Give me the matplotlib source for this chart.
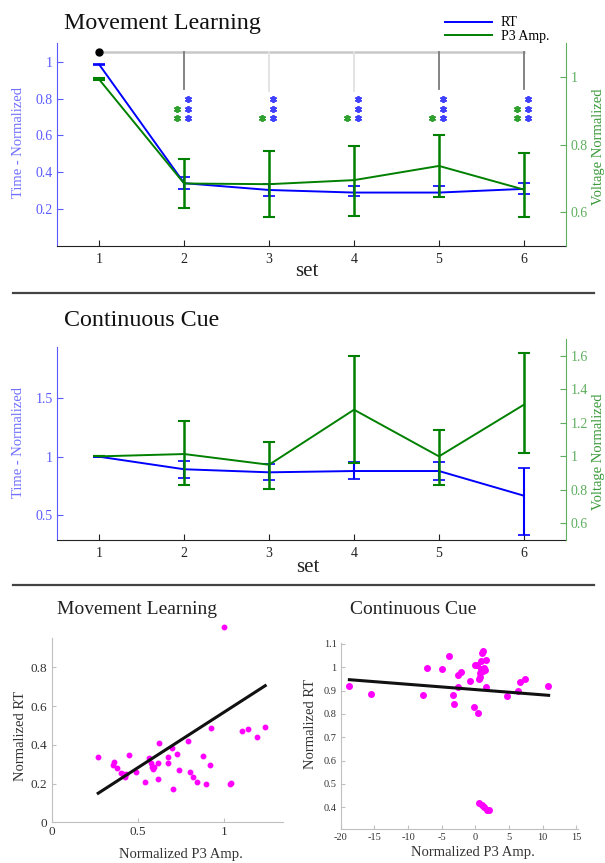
import matplotlib
matplotlib.use('Agg')
import matplotlib.pyplot as plt
from matplotlib.lines import Line2D
from matplotlib.ticker import FuncFormatter

plt.rcParams['font.family'] = ['Liberation Serif', 'DejaVu Serif']

W, H = 605, 863

# ---- data: sets ----
sets = [1, 2, 3, 4, 5, 6]

# movement learning (top panel)
ml_rt = [0.985, 0.341, 0.304, 0.290, 0.290, 0.310]
ml_rt_lo = [0.980, 0.310, 0.270, 0.269, 0.265, 0.280]
ml_rt_hi = [0.990, 0.377, 0.337, 0.323, 0.326, 0.340]
ml_p3 = [0.993, 0.685, 0.683, 0.695, 0.737, 0.667]
ml_p3_lo = [0.990, 0.612, 0.585, 0.590, 0.645, 0.585]
ml_p3_hi = [0.996, 0.759, 0.781, 0.797, 0.829, 0.776]
ml_rt_stars = [0, 3, 3, 3, 3, 3]
ml_p3_stars = [0, 2, 1, 1, 1, 2]
bracket_sets = [2, 3, 4, 5, 6]
bracket_dark = [True, False, False, True, True]

# continuous cue (middle panel)
cc_rt = [1.000, 0.893, 0.867, 0.878, 0.878, 0.668]
cc_rt_lo = [1.000, 0.821, 0.800, 0.808, 0.800, 0.330]
cc_rt_hi = [1.000, 0.966, 0.938, 0.957, 0.957, 0.900]
cc_p3 = [1.000, 1.014, 0.950, 1.279, 1.000, 1.309]
cc_p3_lo = [1.000, 0.827, 0.807, 0.960, 0.830, 1.020]
cc_p3_hi = [1.000, 1.209, 1.086, 1.601, 1.155, 1.617]

# scatter: movement learning
ml_sc_x = [0.267, 0.354, 0.362, 0.381, 0.400, 0.412, 0.426, 0.431, 0.449, 0.489,
           0.542, 0.565, 0.574, 0.580, 0.590, 0.596, 0.615, 0.619, 0.625, 0.673,
           0.677, 0.696, 0.706, 0.729, 0.741, 0.789, 0.803, 0.822, 0.845, 0.880,
           0.896, 0.919, 0.928, 1.000, 1.035, 1.039, 1.106, 1.141, 1.195, 1.238]
ml_sc_y = [0.339, 0.296, 0.313, 0.282, 0.253, 0.249, 0.236, 0.248, 0.348, 0.261,
           0.210, 0.334, 0.305, 0.284, 0.275, 0.287, 0.305, 0.224, 0.408, 0.339,
           0.308, 0.385, 0.172, 0.353, 0.270, 0.420, 0.261, 0.232, 0.210, 0.344,
           0.196, 0.296, 0.489, 1.006, 0.198, 0.205, 0.471, 0.482, 0.439, 0.494]
ml_fit_x = [0.27, 1.24]
ml_fit_y = [0.150, 0.705]

# scatter: continuous cue
cc_sc_x = [-18.71, -15.49, -7.70, -7.11, -4.98, -3.89, -3.34, -3.14, -2.55, -2.10,
           -2.50, -0.86, -0.22, -0.12, 0.23, 0.43, 0.48, 0.63, 0.72, 0.87,
           0.97, 1.12, 1.17, 1.22, 1.37, 1.57, 1.57, 0.82, 4.69, 6.28,
           6.67, 7.42, 10.74, 0.58, 0.97, 1.32, 1.72, 2.01]
cc_sc_y = [0.921, 0.887, 0.883, 0.998, 0.994, 1.047, 0.880, 0.842, 0.966, 0.981,
           0.915, 0.943, 0.832, 1.011, 1.011, 0.804, 0.950, 0.958, 0.976, 1.028,
           1.061, 1.069, 0.985, 0.999, 0.990, 1.030, 0.915, 0.994, 0.878, 0.900,
           0.935, 0.950, 0.921, 0.420, 0.410, 0.403, 0.389, 0.389]
cc_fit_x = [-18.71, 10.89]
cc_fit_y = [0.947, 0.880]

# ---- styles ----
blue = '#0000ff'
green = '#008000'
blue_ax = '#5a5aff'
green_ax = '#5fae5f'
gfmt = FuncFormatter(lambda v, p: '%g' % v)


def rect(l, t, r, b):
    return [l / W, 1 - b / H, (r - l) / W, (b - t) / H]


def errs(v, lo, hi):
    return [[a - b for a, b in zip(v, lo)], [b - a for a, b in zip(v, hi)]]


def style_left(ax):
    ax.spines['top'].set_visible(False)
    ax.spines['right'].set_visible(False)
    ax.spines['left'].set_color(blue_ax)
    ax.spines['bottom'].set_color('#222222')
    ax.tick_params(axis='y', direction='in', length=4, colors=blue_ax, labelsize=10, pad=3)
    ax.tick_params(axis='x', direction='in', length=4, colors='#222222', labelsize=10, pad=5)
    ax.set_xlim(0.5, 6.5)
    ax.set_xticks(sets)
    ax.yaxis.set_major_formatter(gfmt)
    ax.set_xlabel('set', fontsize=15, color='#222222')
    ax.set_ylabel('Time - Normalized', fontsize=10.5, color='#7070ff')


def style_right(ax):
    for s in ['top', 'left', 'bottom']:
        ax.spines[s].set_visible(False)
    ax.spines['right'].set_color(green_ax)
    ax.yaxis.tick_right()
    ax.yaxis.set_label_position('right')
    ax.tick_params(axis='y', direction='in', length=4, colors=green_ax, labelsize=10, pad=3)
    ax.yaxis.set_major_formatter(gfmt)
    ax.set_ylabel('Voltage Normalized', fontsize=10.5, color='#3a9a3a', rotation=90)


fig = plt.figure(figsize=(W / 100, H / 100), dpi=100)

# ---- top panel ----
ax1 = fig.add_axes(rect(56.7, 43.3, 566.4, 246))
ax1r = ax1.twinx()
style_left(ax1)
style_right(ax1r)
ax1.set_ylim(0, 1.1)
ax1.set_yticks([0.2, 0.4, 0.6, 0.8, 1])
ax1r.set_ylim(0.5, 1.1)
ax1r.set_yticks([0.6, 0.8, 1])

l_rt, = ax1.plot(sets, ml_rt, color=blue, lw=1.4)
ax1.errorbar(sets, ml_rt, yerr=errs(ml_rt, ml_rt_lo, ml_rt_hi), fmt='none',
             ecolor=blue, elinewidth=1.5, capsize=4, capthick=1.2)
l_p3, = ax1r.plot(sets, ml_p3, color=green, lw=1.4)
ax1r.errorbar(sets, ml_p3, yerr=errs(ml_p3, ml_p3_lo, ml_p3_hi), fmt='none',
              ecolor=green, elinewidth=1.8, capsize=4, capthick=1.5)

# significance bracket
ax1.plot([1, 6], [1.053, 1.053], color='#c8c8c8', lw=1.8, zorder=1)
for s, dark in zip(bracket_sets, bracket_dark):
    ax1.plot([s, s], [1.053, 0.85 if dark else 0.84],
             color='#7a7a7a' if dark else '#e2e2e2', lw=1.3, zorder=1)
ax1.plot([1], [1.053], 'o', color='black', ms=5, zorder=3)

# stars
star_y = [0.694, 0.746, 0.800]
for s, nb, ng in zip(sets, ml_rt_stars, ml_p3_stars):
    for k in range(nb):
        ax1.plot(s + 0.047, star_y[k], marker=(6, 2, 0), color='#4040ff', ms=5, mew=1.3)
    for k in range(ng):
        ax1.plot(s - 0.078, star_y[k], marker=(6, 2, 0), color='#30a030', ms=5, mew=1.3)

ax1.xaxis.set_label_coords(0.491, -0.079)
ax1.yaxis.set_label_coords(-0.062, 0.513)
ax1r.yaxis.set_label_coords(1.05, 0.488)

fig.legend(handles=[l_rt, l_p3], labels=['RT', 'P3 Amp.'], loc='upper left',
           bbox_to_anchor=(445 / W, 1 - 16.5 / H), frameon=False, fontsize=10,
           handlelength=3.4, handletextpad=0.6, labelspacing=0.05,
           borderpad=0, borderaxespad=0)

fig.text(63.7 / W, 1 - 28.5 / H, 'Movement Learning', fontsize=17.3, va='baseline', color='#111111')

# ---- middle panel ----
ax2 = fig.add_axes(rect(56.7, 346.7, 566.4, 540))
ax2r = fig.add_axes(rect(56.7, 339.3, 566.4, 540))
ax2r.patch.set_visible(False)
style_left(ax2)
style_right(ax2r)
ax2r.set_xlim(0.5, 6.5)
ax2r.set_xticks([])
ax2.set_ylim(0.291, 1.936)
ax2.set_yticks([0.5, 1, 1.5])
ax2r.set_ylim(0.5, 1.7)
ax2r.set_yticks([0.6, 0.8, 1, 1.2, 1.4, 1.6])

ax2.plot(sets, cc_rt, color=blue, lw=1.4)
ax2.errorbar(sets, cc_rt, yerr=errs(cc_rt, cc_rt_lo, cc_rt_hi), fmt='none',
             ecolor=blue, elinewidth=1.5, capsize=4, capthick=1.2)
ax2r.plot(sets, cc_p3, color=green, lw=1.4)
ax2r.errorbar(sets, cc_p3, yerr=errs(cc_p3, cc_p3_lo, cc_p3_hi), fmt='none',
              ecolor=green, elinewidth=1.8, capsize=4, capthick=1.5)

ax2.xaxis.set_label_coords(0.492, -0.093)
ax2.yaxis.set_label_coords(-0.062, 0.504)
ax2r.yaxis.set_label_coords(1.05, 0.441)

fig.text(63.7 / W, 1 - 326 / H, 'Continuous Cue', fontsize=17.3, va='baseline', color='#111111')

# separators
for y in [292.7, 585]:
    fig.add_artist(Line2D([13 / W, 594 / W], [1 - y / H, 1 - y / H],
                          transform=fig.transFigure, color='#444444', lw=1.6))


# ---- bottom scatters ----
def style_scatter(ax, tsize):
    ax.spines['top'].set_visible(False)
    ax.spines['right'].set_visible(False)
    ax.spines['left'].set_color('#c0c0c0')
    ax.spines['bottom'].set_color('#c0c0c0')
    ax.tick_params(direction='in', length=3, color='#c0c0c0', labelcolor='#333333',
                   labelsize=tsize, pad=3)
    ax.xaxis.set_major_formatter(gfmt)
    ax.yaxis.set_major_formatter(gfmt)
    ax.set_xlabel('Normalized P3 Amp.', fontsize=10.5, color='#333333')
    ax.set_ylabel('Normalized RT', fontsize=10.5, color='#333333')


ax3 = fig.add_axes(rect(51.7, 638, 283.3, 822.3))
style_scatter(ax3, 9.5)
ax3.set_xlim(0, 1.345)
ax3.set_ylim(0, 0.951)
ax3.set_xticks([0, 0.5, 1])
ax3.set_yticks([0, 0.2, 0.4, 0.6, 0.8])
ax3.plot(ml_sc_x, ml_sc_y, 'o', color='#ff00ff', ms=3.2, clip_on=False)
ax3.plot(ml_fit_x, ml_fit_y, color='#111111', lw=2.2)
ax3.xaxis.set_label_coords(0.558, -0.139)
ax3.yaxis.set_label_coords(-0.108, 0.469)
fig.text(56.7 / W, 1 - 614 / H, 'Movement Learning', fontsize=14, va='baseline', color='#222222')

ax4 = fig.add_axes(rect(340.7, 643.3, 578.3, 829))
style_scatter(ax4, 7.5)
ax4.set_xlim(-20, 15.3)
ax4.set_ylim(0.307, 1.103)
ax4.set_xticks([-20, -15, -10, -5, 0, 5, 10, 15])
ax4.set_yticks([0.4, 0.5, 0.6, 0.7, 0.8, 0.9, 1.0, 1.1])
ax4.plot(cc_sc_x, cc_sc_y, 'o', color='#ff00ff', ms=4, clip_on=False)
ax4.plot(cc_fit_x, cc_fit_y, color='#111111', lw=2.2)
ax4.xaxis.set_label_coords(0.558, -0.092)
ax4.yaxis.set_label_coords(-0.101, 0.565)
fig.text(350 / W, 1 - 614 / H, 'Continuous Cue', fontsize=14, va='baseline', color='#222222')

fig.savefig('out.png', dpi=100)
